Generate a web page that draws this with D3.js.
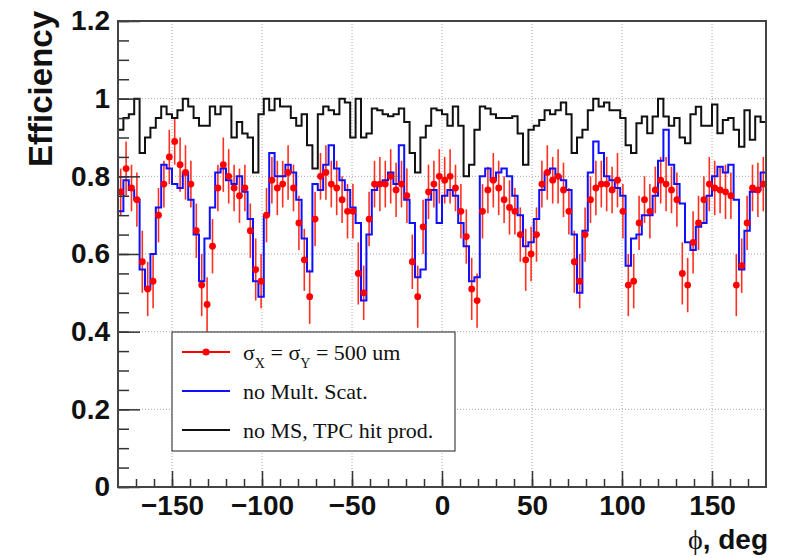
<!DOCTYPE html>
<html>
<head>
<meta charset="utf-8">
<script src="https://cdn.jsdelivr.net/npm/d3@7"></script>
<style>
  body { margin: 0; background: #fff; }
  text { font-family: "Liberation Sans", Arial, sans-serif; }
</style>
</head>
<body>
<div id="chart"></div>
<script>
// phi bins: 120 bins of 3 deg from -180 to 180
var binLow = -180, binWidth = 3;

// black: no MS, TPC hit prod.
var effNoMSTpc = [
  0.92, 0.95, 0.96, 1.0, 0.86, 0.90, 0.925, 0.95, 0.98, 0.96,
  0.95, 0.97, 1.0, 0.98, 0.95, 0.93, 0.93, 0.98, 0.96, 0.98,
  0.98, 0.90, 0.94, 0.91, 0.90, 0.81, 0.96, 1.0, 0.97, 1.0,
  0.98, 0.98, 0.95, 0.93, 0.96, 0.88, 0.82, 0.96, 0.98, 0.97,
  0.96, 1.0, 0.99, 0.90, 1.0, 0.90, 0.91, 0.975, 0.97, 0.96,
  0.955, 0.96, 0.975, 0.94, 0.86, 0.81, 0.90, 0.93, 0.975, 0.97,
  0.96, 0.93, 0.98, 0.93, 0.80, 0.83, 0.92, 0.98, 0.975, 0.96,
  0.95, 0.95, 0.95, 0.955, 0.91, 0.83, 0.92, 0.93, 0.945, 0.97,
  0.96, 0.97, 0.99, 0.96, 0.86, 0.90, 0.92, 0.97, 1.0, 0.98,
  0.99, 0.97, 0.97, 0.95, 0.88, 0.86, 0.937, 0.954, 0.911, 0.954,
  1.0, 0.954, 0.93, 0.95, 0.90, 0.885, 0.96, 0.979, 0.93, 0.93,
  0.985, 0.911, 0.945, 0.95, 0.92, 0.876, 0.97, 0.894, 0.954, 0.94
];

// blue: no Mult. Scat.
var effNoMS = [
  0.71, 0.79, 0.765, 0.74, 0.56, 0.51, 0.60, 0.72, 0.83, 0.82,
  0.78, 0.77, 0.81, 0.74, 0.65, 0.53, 0.64, 0.72, 0.81, 0.82,
  0.79, 0.78, 0.80, 0.76, 0.69, 0.53, 0.49, 0.70, 0.86, 0.80,
  0.80, 0.83, 0.81, 0.74, 0.64, 0.555, 0.78, 0.765, 0.83, 0.88,
  0.82, 0.79, 0.765, 0.72, 0.68, 0.48, 0.65, 0.765, 0.78, 0.79,
  0.81, 0.78, 0.88, 0.74, 0.68, 0.54, 0.56, 0.74, 0.765, 0.68,
  0.75, 0.765, 0.75, 0.68, 0.62, 0.53, 0.54, 0.80, 0.82, 0.79,
  0.81, 0.82, 0.80, 0.75, 0.70, 0.62, 0.63, 0.69, 0.765, 0.81,
  0.82, 0.80, 0.79, 0.765, 0.65, 0.50, 0.66, 0.81, 0.89, 0.86,
  0.80, 0.79, 0.77, 0.75, 0.57, 0.64, 0.65, 0.70, 0.70, 0.75,
  0.84, 0.92, 0.83, 0.78, 0.73, 0.63, 0.61, 0.67, 0.68, 0.75,
  0.80, 0.825, 0.81, 0.83, 0.74, 0.56, 0.66, 0.76, 0.765, 0.81
];

// red: sigma_X = sigma_Y = 500 um
var effSigma500 = [
  0.76, 0.82, 0.77, 0.74, 0.58, 0.51, 0.53, 0.70, 0.78, 0.85,
  0.89, 0.83, 0.81, 0.78, 0.66, 0.52, 0.47, 0.62, 0.77, 0.83,
  0.80, 0.77, 0.75, 0.77, 0.66, 0.56, 0.53, 0.70, 0.79, 0.77,
  0.78, 0.81, 0.77, 0.68, 0.585, 0.49, 0.69, 0.80, 0.81, 0.78,
  0.77, 0.74, 0.71, 0.71, 0.55, 0.50, 0.69, 0.78, 0.78, 0.78,
  0.80, 0.765, 0.78, 0.75, 0.58, 0.49, 0.67, 0.76, 0.78, 0.80,
  0.79, 0.80, 0.77, 0.71, 0.645, 0.51, 0.48, 0.71, 0.765, 0.79,
  0.77, 0.74, 0.72, 0.71, 0.65, 0.585, 0.60, 0.65, 0.78, 0.81,
  0.79, 0.80, 0.765, 0.71, 0.58, 0.53, 0.65, 0.74, 0.77, 0.78,
  0.78, 0.765, 0.79, 0.71, 0.52, 0.53, 0.68, 0.74, 0.71, 0.765,
  0.79, 0.78, 0.765, 0.74, 0.55, 0.52, 0.63, 0.68, 0.74, 0.78,
  0.77, 0.765, 0.76, 0.75, 0.52, 0.57, 0.68, 0.77, 0.765, 0.78
];
var errSigma500 = [
  0.06, 0.07, 0.06, 0.07, 0.08, 0.07, 0.07, 0.07, 0.06, 0.07,
  0.06, 0.07, 0.07, 0.06, 0.07, 0.08, 0.07, 0.07, 0.06, 0.07,
  0.07, 0.06, 0.07, 0.06, 0.07, 0.08, 0.07, 0.07, 0.06, 0.07,
  0.06, 0.07, 0.06, 0.07, 0.08, 0.07, 0.07, 0.06, 0.07, 0.06,
  0.07, 0.06, 0.07, 0.07, 0.08, 0.07, 0.07, 0.06, 0.07, 0.06,
  0.07, 0.07, 0.06, 0.07, 0.07, 0.08, 0.07, 0.07, 0.06, 0.07,
  0.06, 0.07, 0.06, 0.07, 0.07, 0.08, 0.07, 0.07, 0.06, 0.07,
  0.07, 0.06, 0.07, 0.06, 0.07, 0.08, 0.07, 0.07, 0.06, 0.07,
  0.06, 0.07, 0.07, 0.06, 0.08, 0.07, 0.07, 0.06, 0.07, 0.06,
  0.07, 0.06, 0.07, 0.07, 0.08, 0.07, 0.07, 0.06, 0.07, 0.06,
  0.06, 0.07, 0.06, 0.07, 0.08, 0.07, 0.08, 0.07, 0.06, 0.07,
  0.07, 0.06, 0.07, 0.06, 0.08, 0.07, 0.07, 0.06, 0.07, 0.07
];

var xTicks = [-150, -100, -50, 0, 50, 100, 150];
var xMinorTicks = d3.range(-170, 171, 10);
var yTicks = [0, 0.2, 0.4, 0.6, 0.8, 1, 1.2];
var yMinorTicks = d3.range(0, 1.201, 0.05);
var legendLabels = ["no Mult. Scat.", "no MS, TPC hit prod."];

var svgWidth = 795;
var svgHeight = 558;
var margin = { top: 21, right: 29, bottom: 71, left: 118 };
var width = svgWidth - margin.left - margin.right;
var height = svgHeight - margin.top - margin.bottom;

var svg = d3.select("#chart")
  .append("svg")
  .attr("width", svgWidth)
  .attr("height", svgHeight);

var chartGroup = svg.append("g")
  .attr("transform", `translate(${margin.left}, ${margin.top})`);

var x = d3.scaleLinear().domain([-180, 180]).range([0, width]);
var y = d3.scaleLinear().domain([0, 1.2]).range([height, 0]);

// grid
chartGroup.append("g").selectAll("line")
  .data(xTicks).join("line")
  .attr("x1", d => x(d)).attr("x2", d => x(d))
  .attr("y1", 0).attr("y2", height)
  .attr("stroke", "#a8a8a8").attr("stroke-width", 1)
  .attr("stroke-dasharray", "1,2");
chartGroup.append("g").selectAll("line")
  .data(yTicks.filter(d => d > 0 && d < 1.2)).join("line")
  .attr("x1", 0).attr("x2", width)
  .attr("y1", d => y(d)).attr("y2", d => y(d))
  .attr("stroke", "#a8a8a8").attr("stroke-width", 1)
  .attr("stroke-dasharray", "1,2");

// histogram outline as steps
function stepPath(vals) {
  var p = "";
  vals.forEach(function(v, i) {
    var x0 = x(binLow + i * binWidth), x1 = x(binLow + (i + 1) * binWidth);
    p += (i === 0 ? "M" : "L") + x0 + "," + y(v) + "L" + x1 + "," + y(v);
  });
  return p;
}

var centers = effSigma500.map((v, i) => binLow + (i + 0.5) * binWidth);

// red error bars
chartGroup.append("g").selectAll("line")
  .data(effSigma500).join("line")
  .attr("x1", (d, i) => x(centers[i])).attr("x2", (d, i) => x(centers[i]))
  .attr("y1", (d, i) => y(d - errSigma500[i]))
  .attr("y2", (d, i) => y(Math.min(d + errSigma500[i], 1.2)))
  .attr("stroke", "#ff3020").attr("stroke-width", 1.6);

// blue
chartGroup.append("path")
  .attr("d", stepPath(effNoMS))
  .attr("fill", "none").attr("stroke", "#1010ff").attr("stroke-width", 2);

// black
chartGroup.append("path")
  .attr("d", stepPath(effNoMSTpc))
  .attr("fill", "none").attr("stroke", "#111").attr("stroke-width", 2);

// red markers
chartGroup.append("g").selectAll("circle")
  .data(effSigma500).join("circle")
  .attr("cx", (d, i) => x(centers[i]))
  .attr("cy", d => y(d))
  .attr("r", 3.4)
  .attr("fill", "#ff0000");

// axes with inside ticks
var tickColor = "#333";
function styleAxis(g) {
  g.select(".domain").remove();
  g.selectAll("line").attr("stroke", tickColor).attr("stroke-width", 1.5);
  g.selectAll("text")
    .attr("fill", "#111")
    .style("font-family", "'Liberation Sans', Arial, sans-serif")
    .style("font-weight", "bold")
    .style("font-size", "28px");
}

chartGroup.append("g")
  .attr("transform", `translate(0, ${height})`)
  .call(d3.axisBottom(x).tickValues(xMinorTicks).tickSizeInner(-8).tickSizeOuter(0).tickFormat(""))
  .call(styleAxis);
chartGroup.append("g")
  .attr("transform", `translate(0, ${height})`)
  .call(d3.axisBottom(x).tickValues(xTicks).tickSizeInner(-16).tickSizeOuter(0)
    .tickPadding(8).tickFormat(d3.format("d")))
  .call(styleAxis);

chartGroup.append("g")
  .call(d3.axisLeft(y).tickValues(yMinorTicks).tickSizeInner(-11).tickSizeOuter(0).tickFormat(""))
  .call(styleAxis);
chartGroup.append("g")
  .call(d3.axisLeft(y).tickValues(yTicks).tickSizeInner(-22).tickSizeOuter(0)
    .tickPadding(8).tickFormat(d => String(+d.toFixed(1))))
  .call(styleAxis);

// frame
chartGroup.append("rect")
  .attr("x", 0).attr("y", 0).attr("width", width).attr("height", height)
  .attr("fill", "none").attr("stroke", "#444").attr("stroke-width", 2);

// axis titles
svg.append("text")
  .attr("transform", "translate(52, 11) rotate(-90)")
  .attr("text-anchor", "end")
  .style("font-weight", "bold").style("font-size", "33px")
  .attr("fill", "#111")
  .text("Efficiency");

var xt = svg.append("text")
  .attr("x", 768).attr("y", 549)
  .attr("text-anchor", "end")
  .style("font-weight", "bold").style("font-size", "28px")
  .attr("fill", "#111");
xt.append("tspan")
  .style("font-family", "'Liberation Serif', 'DejaVu Serif', serif")
  .style("font-weight", "normal")
  .text("\u03D5");
xt.append("tspan").text(", deg");

// legend
var leg = svg.append("g").attr("transform", "translate(172, 332)");
leg.append("rect")
  .attr("width", 283).attr("height", 119)
  .attr("fill", "#fff").attr("stroke", "#444").attr("stroke-width", 1.2);

var rowY = [20, 59, 98];
var legText = function(row) {
  return leg.append("text")
    .attr("x", 71).attr("y", rowY[row]).attr("dy", "0.35em")
    .style("font-family", "'Liberation Serif', 'Times New Roman', serif")
    .style("font-size", "22px")
    .attr("fill", "#111");
};

leg.append("line")
  .attr("x1", 10).attr("x2", 58).attr("y1", rowY[0]).attr("y2", rowY[0])
  .attr("stroke", "#ff0000").attr("stroke-width", 2);
leg.append("circle").attr("cx", 34).attr("cy", rowY[0]).attr("r", 3.6).attr("fill", "#ff0000");
var t0 = legText(0);
t0.append("tspan").text("\u03C3");
t0.append("tspan").attr("baseline-shift", "sub").style("font-size", "14px").text("X");
t0.append("tspan").text(" = \u03C3");
t0.append("tspan").attr("baseline-shift", "sub").style("font-size", "14px").text("Y");
t0.append("tspan").text(" = 500 um");

leg.append("line")
  .attr("x1", 10).attr("x2", 58).attr("y1", rowY[1]).attr("y2", rowY[1])
  .attr("stroke", "#1010ff").attr("stroke-width", 2);
legText(1).text(legendLabels[0]);

leg.append("line")
  .attr("x1", 10).attr("x2", 58).attr("y1", rowY[2]).attr("y2", rowY[2])
  .attr("stroke", "#111").attr("stroke-width", 2);
legText(2).text(legendLabels[1]);
</script>
</body>
</html>
